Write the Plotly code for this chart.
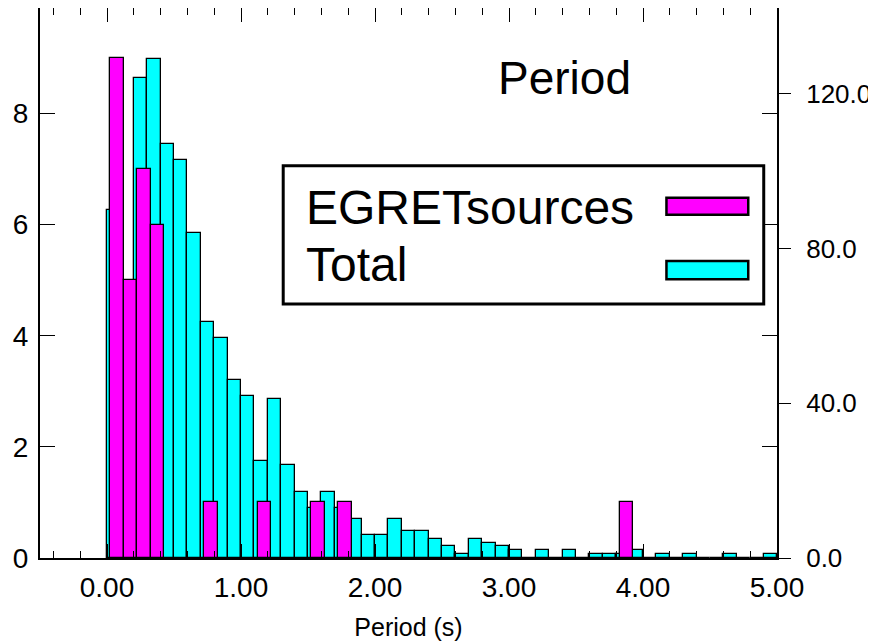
import plotly.graph_objects as go

# Histogram bins (left edge of each 0.1 s bin).
period_bins = [0.0, 0.1, 0.2, 0.3, 0.4, 0.5, 0.6, 0.7, 0.8, 0.9,
               1.0, 1.1, 1.2, 1.3, 1.4, 1.5, 1.6, 1.7, 1.8, 1.9,
               2.0, 2.1, 2.2, 2.3, 2.4, 2.5, 2.6, 2.7, 2.8, 2.9,
               3.0, 3.1, 3.2, 3.3, 3.4, 3.5, 3.6, 3.7, 3.8, 3.9,
               4.0, 4.1, 4.2, 4.3, 4.4, 4.5, 4.6, 4.7, 4.8, 4.9]
total_counts = [90, 60, 124, 129, 107, 103, 84, 61, 57, 46,
                42, 25, 41, 24, 17, 13, 17, 13, 10, 6,
                6, 10, 7, 7, 5, 3, 1, 5, 4, 3,
                2, 0, 2, 0, 2, 0, 1, 1, 1, 2,
                0, 1, 0, 1, 0, 0, 1, 0, 0, 1]

egret_bins = [0.0, 0.1, 0.2, 0.3, 0.7, 1.1, 1.5, 1.7, 3.8]
egret_counts = [9, 5, 7, 6, 1, 1, 1, 1, 1]

left_ticks = [0, 2, 4, 6, 8]
right_ticks = [0, 40, 80, 120]

FONT = "Liberation Sans, Arial, sans-serif"
MAGENTA = "#FF00FF"
CYAN = "#00FFFF"

fig = go.Figure()

# Total on the base axis (right side), so the EGRET bars sit on top of it.
fig.add_trace(go.Bar(x=period_bins, y=total_counts, name="Total",
                     width=0.1, offset=0, yaxis="y",
                     marker=dict(color=CYAN, line=dict(color="black", width=1.3))))

# EGRET sources on the overlaying axis (left side).
fig.add_trace(go.Bar(x=egret_bins, y=egret_counts, name="EGRETsources",
                     width=0.1, offset=0.025, yaxis="y2",
                     marker=dict(color=MAGENTA, line=dict(color="black", width=1.3))))

# page body has an 8px margin: shrink the figure so no scrollbar appears
fig.update_layout(
    width=868, height=635,
    margin=dict(l=32, r=99, t=0, b=85),
    paper_bgcolor="white", plot_bgcolor="white",
    showlegend=False,
    font=dict(family=FONT, color="black"),
    bargap=0,
    xaxis=dict(range=[-0.5, 5.0], dtick=1, tick0=0, tickformat=".2f",
               ticks="inside", ticklen=14, tickwidth=1.2, tickcolor="black",
               minor=dict(dtick=0.2, tick0=0, ticks="inside", ticklen=7,
                          tickwidth=1.2, tickcolor="black"),
               showline=True, linecolor="black", linewidth=2, mirror="ticks",
               showgrid=False, zeroline=False, automargin=False,
               tickfont=dict(size=28), ticklabelstandoff=3,
               title=dict(text="Period (s)", font=dict(size=25), standoff=17)),
    yaxis=dict(range=[0, 142.2], tickvals=right_ticks, tickformat=".1f",
               side="right", ticks="outside", ticklen=12, tickwidth=1.2,
               tickcolor="black", showline=True, linecolor="black", linewidth=2,
               showgrid=False, zeroline=False, tickfont=dict(size=26),
               automargin=False, ticklabelstandoff=10),
    yaxis2=dict(range=[0, 9.9], tickvals=left_ticks, overlaying="y",
                side="left", ticks="inside", ticklen=15, tickwidth=1.2,
                tickcolor="black", showline=True, linecolor="black", linewidth=2,
                mirror="ticks", showgrid=False, zeroline=False,
                automargin=False, tickfont=dict(size=28), ticklabelstandoff=4),
)

# Chart title inside the plot.
fig.add_annotation(text="Period", xref="paper", yref="paper", x=0.711, y=0.872,
                   xanchor="center", yanchor="middle", showarrow=False,
                   font=dict(size=46, family=FONT))

# Hand-drawn legend box with long swatches.
fig.add_shape(type="rect", xref="paper", yref="paper", x0=0.330, x1=0.982,
              y0=0.462, y1=0.713, line=dict(color="black", width=3),
              fillcolor="white", layer="above")
legend_items = [("EGRETsources", MAGENTA, 0.638, 0.624, 0.655),
                ("Total", CYAN, 0.533, 0.507, 0.540)]
for label, colour, ty, sy0, sy1 in legend_items:
    fig.add_annotation(text=label, xref="paper", yref="paper", x=0.358, y=ty,
                       xanchor="left", yanchor="middle", showarrow=False,
                       font=dict(size=48, family=FONT))
    fig.add_shape(type="rect", xref="paper", yref="paper", x0=0.850, x1=0.961,
                  y0=sy0, y1=sy1, line=dict(color="black", width=2.5),
                  fillcolor=colour, layer="above")

fig.write_html("out.html")
